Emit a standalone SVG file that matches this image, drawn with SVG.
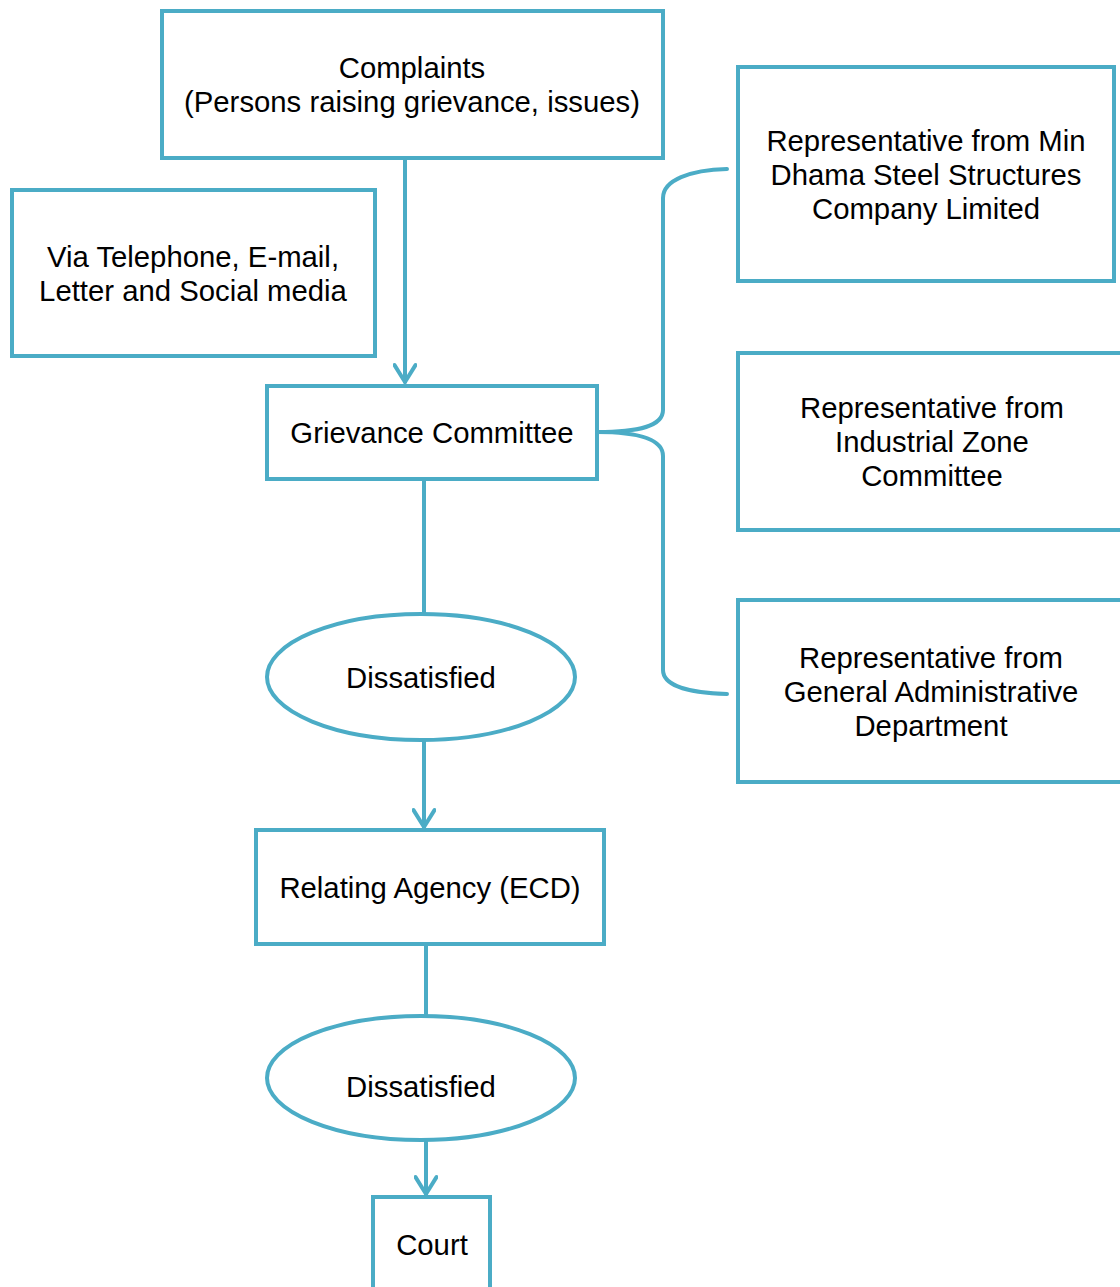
<svg xmlns="http://www.w3.org/2000/svg" width="1120" height="1287" viewBox="0 0 1120 1287">
  <style>
    .shape { fill: #ffffff; stroke: #4bacc6; stroke-width: 4; }
    .link { fill: none; stroke: #4bacc6; stroke-width: 4; stroke-linecap: round; stroke-linejoin: round; }
    .label { font-family: "Liberation Sans", Arial, sans-serif; font-size: 29.3px; fill: #000000; text-anchor: middle; }
  </style>
  <defs>
    <marker id="chevron" viewBox="0 0 24 24" refX="20" refY="12" markerWidth="24" markerHeight="24" markerUnits="userSpaceOnUse" orient="auto">
      <polyline points="3,1.5 20,12 3,22.5" fill="none" stroke="#4bacc6" stroke-width="4" stroke-linecap="round" stroke-linejoin="round"/>
    </marker>
  </defs>
  <rect width="1120" height="1287" fill="#ffffff"/>

  <!-- connectors -->
  <g id="connectors">
    <line class="link" x1="405" y1="158" x2="405" y2="382" marker-end="url(#chevron)"/>
    <line class="link" x1="424" y1="479" x2="424" y2="614"/>
    <line class="link" x1="424" y1="740" x2="424" y2="827" marker-end="url(#chevron)"/>
    <line class="link" x1="426" y1="944" x2="426" y2="1015"/>
    <line class="link" x1="426" y1="1140" x2="426" y2="1194" marker-end="url(#chevron)"/>
    <!-- brace from the committee to its members -->
    <path class="link" d="M597,432 C640,432 663,426 663,410 L663,198 C663,180 690,170 727,169"/>
    <path class="link" d="M597,432 C640,432 663,440 663,456 L663,670 C663,686 690,693 727,694"/>
  </g>

  <g id="complaints">
    <rect class="shape" x="162" y="11" width="501" height="147"/>
    <text class="label" x="412" y="78">Complaints</text>
    <text class="label" x="412" y="112">(Persons raising grievance, issues)</text>
  </g>

  <g id="channels">
    <rect class="shape" x="12" y="190" width="363" height="166"/>
    <text class="label" x="193" y="267">Via Telephone, E-mail,</text>
    <text class="label" x="193" y="301">Letter and Social media</text>
  </g>

  <g id="grievance-committee">
    <rect class="shape" x="267" y="386" width="330" height="93"/>
    <text class="label" x="432" y="443">Grievance Committee</text>
  </g>

  <g id="rep-min-dhama">
    <rect class="shape" x="738" y="67" width="376" height="214"/>
    <text class="label" x="926" y="151">Representative from Min</text>
    <text class="label" x="926" y="185">Dhama Steel Structures</text>
    <text class="label" x="926" y="219">Company Limited</text>
  </g>

  <g id="rep-industrial-zone">
    <rect class="shape" x="738" y="353" width="400" height="177"/>
    <text class="label" x="932" y="418">Representative from</text>
    <text class="label" x="932" y="452">Industrial Zone</text>
    <text class="label" x="932" y="486">Committee</text>
  </g>

  <g id="rep-general-admin">
    <rect class="shape" x="738" y="600" width="400" height="182"/>
    <text class="label" x="931" y="668">Representative from</text>
    <text class="label" x="931" y="702">General Administrative</text>
    <text class="label" x="931" y="736">Department</text>
  </g>

  <g id="dissatisfied-1">
    <ellipse class="shape" cx="421" cy="677" rx="154" ry="63"/>
    <text class="label" x="421" y="688">Dissatisfied</text>
  </g>

  <g id="relating-agency">
    <rect class="shape" x="256" y="830" width="348" height="114"/>
    <text class="label" x="430" y="898">Relating Agency (ECD)</text>
  </g>

  <g id="dissatisfied-2">
    <ellipse class="shape" cx="421" cy="1078" rx="154" ry="62"/>
    <text class="label" x="421" y="1097">Dissatisfied</text>
  </g>

  <g id="court">
    <rect class="shape" x="373" y="1197" width="117" height="110"/>
    <text class="label" x="432" y="1255">Court</text>
  </g>
</svg>
